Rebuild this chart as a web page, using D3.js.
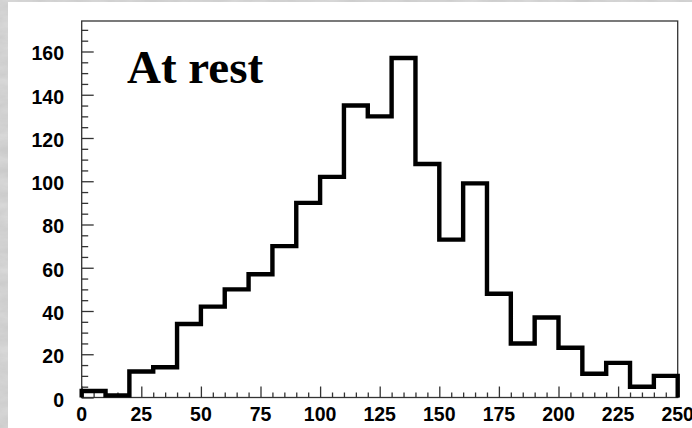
<!DOCTYPE html>
<html>
<head>
<meta charset="utf-8">
<script src="https://cdn.jsdelivr.net/npm/d3@7/dist/d3.min.js"></script>
<style>
  html, body { margin: 0; padding: 0; background: #fff; }
  svg { display: block; }
</style>
</head>
<body>
<script>
// Histogram: counts per 10-unit bin from 0 to 250
const binEdges = [0, 10, 20, 30, 40, 50, 60, 70, 80, 90, 100, 110, 120, 130, 140, 150, 160, 170, 180, 190, 200, 210, 220, 230, 240, 250];
const counts = [3, 1, 12, 14, 34, 42, 50, 57, 70, 90, 102, 135, 130, 157, 108, 73, 99, 48, 25, 37, 23, 11, 16, 5, 10];
const xTickLabels = [0, 25, 50, 75, 100, 125, 150, 175, 200, 225, 250];
const yTickLabels = [0, 20, 40, 60, 80, 100, 120, 140, 160];
const titleText = "At rest";

const W = 692, H = 428;
const frame = { left: 81.7, right: 677.7, top: 21, bottom: 397.5 };

const svg = d3.select("body").append("svg")
  .attr("width", W).attr("height", H);

// Marbled grey backdrop showing along the page edge
const defs = svg.append("defs");
const marble = defs.append("filter").attr("id", "marble")
  .attr("x", 0).attr("y", 0).attr("width", "100%").attr("height", "100%");
marble.append("feTurbulence").attr("type", "fractalNoise")
  .attr("baseFrequency", "0.035 0.09").attr("numOctaves", 4).attr("seed", 7).attr("result", "n");
marble.append("feColorMatrix").attr("type", "matrix")
  .attr("values", "0 0 0 0 0.78  0 0 0 0 0.78  0 0 0 0 0.78  0.9 0 0 0 -0.2");
svg.append("rect").attr("width", W).attr("height", H).attr("fill", "#cbcbcb");
svg.append("rect").attr("width", W).attr("height", H).attr("fill", "#e6e6e6").attr("filter", "url(#marble)");

// White canvas
svg.append("rect").attr("x", 8).attr("y", 2).attr("width", W - 8).attr("height", H - 2).attr("fill", "#fff");

const x = d3.scaleLinear().domain([0, 250]).range([frame.left, frame.right]);
const y = d3.scaleLinear().domain([0, 174.1]).range([frame.bottom, frame.top]);

const axisColor = "#333";

// Frame
svg.append("rect")
  .attr("x", frame.left).attr("y", frame.top)
  .attr("width", frame.right - frame.left).attr("height", frame.bottom - frame.top)
  .attr("fill", "none").attr("stroke", axisColor).attr("stroke-width", 1.3);

// Y axis ticks (major every 20, minor every 5), drawn inward
const yMinor = d3.range(0, 175, 5).filter(v => v % 20 !== 0);
const yAxisMajor = d3.axisRight(y).tickValues(yTickLabels).tickSize(12).tickFormat("");
const yAxisMinor = d3.axisRight(y).tickValues(yMinor).tickSize(6.5).tickFormat("");
[yAxisMajor, yAxisMinor].forEach(ax => {
  const g = svg.append("g").attr("transform", `translate(${frame.left},0)`).call(ax);
  g.select(".domain").remove();
  g.selectAll("line").attr("stroke", axisColor).attr("stroke-width", 1.3);
});

// X axis ticks (major every 25, minor every 5), drawn inward
const xMinor = d3.range(0, 251, 5).filter(v => v % 25 !== 0);
const xAxisMajor = d3.axisTop(x).tickValues(xTickLabels).tickSize(11).tickFormat("");
const xAxisMinor = d3.axisTop(x).tickValues(xMinor).tickSize(5).tickFormat("");
[xAxisMajor, xAxisMinor].forEach(ax => {
  const g = svg.append("g").attr("transform", `translate(0,${frame.bottom})`).call(ax);
  g.select(".domain").remove();
  g.selectAll("line").attr("stroke", axisColor).attr("stroke-width", 1.3);
});

// Tick labels
const labelFont = "'Liberation Sans', Arial, Helvetica, sans-serif";
svg.append("g").selectAll("text").data(yTickLabels).join("text")
  .attr("x", 64).attr("y", d => y(d) + 9)
  .attr("text-anchor", "end")
  .attr("font-family", labelFont).attr("font-weight", "bold").attr("font-size", 19.5)
  .attr("fill", "#000").text(d => d);

svg.append("g").selectAll("text").data(xTickLabels).join("text")
  .attr("x", d => x(d)).attr("y", 421)
  .attr("text-anchor", "middle")
  .attr("font-family", labelFont).attr("font-weight", "bold").attr("font-size", 19.5)
  .attr("fill", "#000").text(d => d);

// Histogram outline
const pts = [[binEdges[0], 0]];
counts.forEach((c, i) => { pts.push([binEdges[i], c]); pts.push([binEdges[i + 1], c]); });
pts.push([binEdges[binEdges.length - 1], 0]);
const line = d3.line().x(d => x(d[0])).y(d => y(d[1]));
svg.append("path").attr("d", line(pts))
  .attr("fill", "none").attr("stroke", "#000").attr("stroke-width", 4.4)
  .attr("stroke-linejoin", "miter").attr("stroke-linecap", "butt");

// Title
svg.append("text")
  .attr("x", 127).attr("y", 83)
  .attr("font-family", "'Liberation Serif', 'Times New Roman', serif")
  .attr("font-weight", "bold").attr("font-size", 47)
  .attr("fill", "#000").text(titleText);
</script>
</body>
</html>
